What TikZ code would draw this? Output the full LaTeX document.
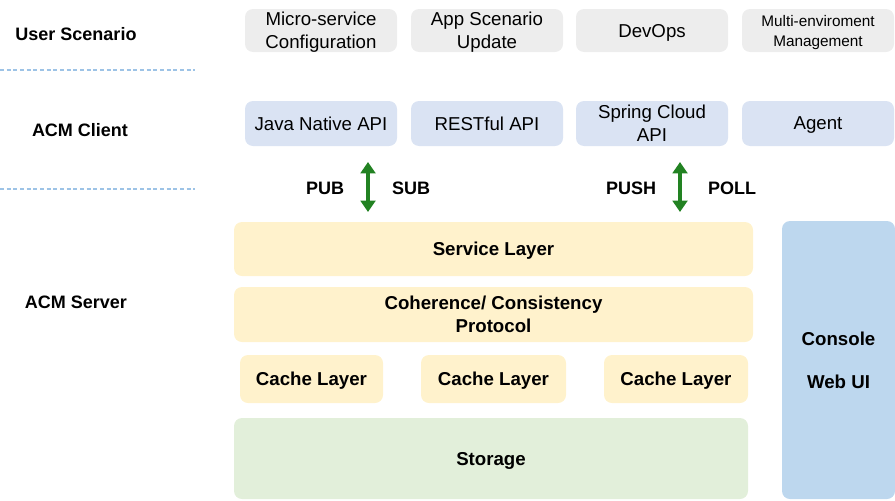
\documentclass[tikz,border=0pt]{standalone}
\usepackage{fontspec}
\setmainfont{Liberation Sans}
\usetikzlibrary{arrows.meta}
\newdimen\px \px=0.75pt
\definecolor{scengray}{RGB}{237,237,237}
\definecolor{clientblue}{RGB}{218,227,243}
\definecolor{layeryellow}{RGB}{255,242,204}
\definecolor{storegreen}{RGB}{226,239,218}
\definecolor{consoleblue}{RGB}{189,215,238}
\definecolor{sepblue}{RGB}{157,195,230}
\definecolor{arrowgreen}{RGB}{34,130,34}
\begin{document}
\begin{tikzpicture}[x=0.75pt, y=-0.75pt,
    box/.style={rounded corners=8\px, inner sep=0pt, text depth=0pt, align=center, font=\fontsize{14}{17}\selectfont},
    scenbox/.style={box, fill=scengray, minimum width=152\px, minimum height=43\px},
    clientbox/.style={box, fill=clientblue, minimum width=152\px, minimum height=45\px},
    layerbox/.style={box, fill=layeryellow, font=\fontsize{14}{17}\selectfont\bfseries},
    rowlabel/.style={font=\fontsize{13.5}{16}\selectfont\bfseries},
    flowlabel/.style={font=\fontsize{13.5}{16}\selectfont\bfseries},
    flow/.style={{Triangle[width=11pt,length=8.5pt]}-{Triangle[width=11pt,length=8.5pt]}, line width=2.8pt, arrowgreen},
    sep/.style={sepblue, dash pattern=on 3pt off 2pt, line width=0.9pt}]
    \useasboundingbox (0,0) rectangle (895,500);
    % row labels
    \node[rowlabel] (userlbl) at (76,34) {User Scenario};
    \node[rowlabel] (clientlbl) at (80,130) {ACM Client};
    \node[rowlabel] (serverlbl) at (76,302) {ACM Server};
    \draw[sep] (0,70) -- (195,70);
    \draw[sep] (0,189) -- (195,189);
    % user scenario
    \node[scenbox] (micro) at (321,30.5) {Micro-service\\Configuration};
    \node[scenbox] (appupd) at (487,30.5) {App Scenario\\Update};
    \node[scenbox] (devops) at (652,30.5) {DevOps};
    \node[scenbox, font=\fontsize{11.5}{15}\selectfont] (multi) at (818,30.5) {Multi-enviroment\\Management};
    % client
    \node[clientbox] (java) at (321,123.5) {Java Native API};
    \node[clientbox] (rest) at (487,123.5) {RESTful API};
    \node[clientbox] (spring) at (652,123.5) {Spring Cloud\\API};
    \node[clientbox] (agent) at (818,123.5) {Agent};
    % server
    \node[layerbox, minimum width=519\px, minimum height=54\px] (service) at (493.5,249) {Service Layer};
    \node[layerbox, minimum width=519\px, minimum height=55\px] (coher) at (493.5,314.5) {Coherence/ Consistency\\Protocol};
    \node[layerbox, minimum width=143\px, minimum height=48\px] (cacheA) at (311.5,379) {Cache Layer};
    \node[layerbox, minimum width=145\px, minimum height=48\px] (cacheB) at (493.5,379) {Cache Layer};
    \node[layerbox, minimum width=144\px, minimum height=48\px] (cacheC) at (676,379) {Cache Layer};
    \node[layerbox, fill=storegreen, minimum width=514\px, minimum height=81\px] (storage) at (491,458.5) {Storage};
    \node[layerbox, fill=consoleblue, minimum width=113\px, minimum height=278\px] (console) at (838.5,360) {Console\\[20\px]Web UI};
    % pub/sub and push/poll
    \coordinate (pubtop) at (368,162);
    \coordinate (pubbot) at (368,212);
    \coordinate (pushtop) at (680,162);
    \coordinate (pushbot) at (680,212);
    \draw[flow] (pubtop) -- (pubbot);
    \draw[flow] (pushtop) -- (pushbot);
    \node[flowlabel] (pub) at (325,188) {PUB};
    \node[flowlabel] (sub) at (411,188) {SUB};
    \node[flowlabel] (push) at (631,188) {PUSH};
    \node[flowlabel] (poll) at (732,188) {POLL};
\end{tikzpicture}
\end{document}
